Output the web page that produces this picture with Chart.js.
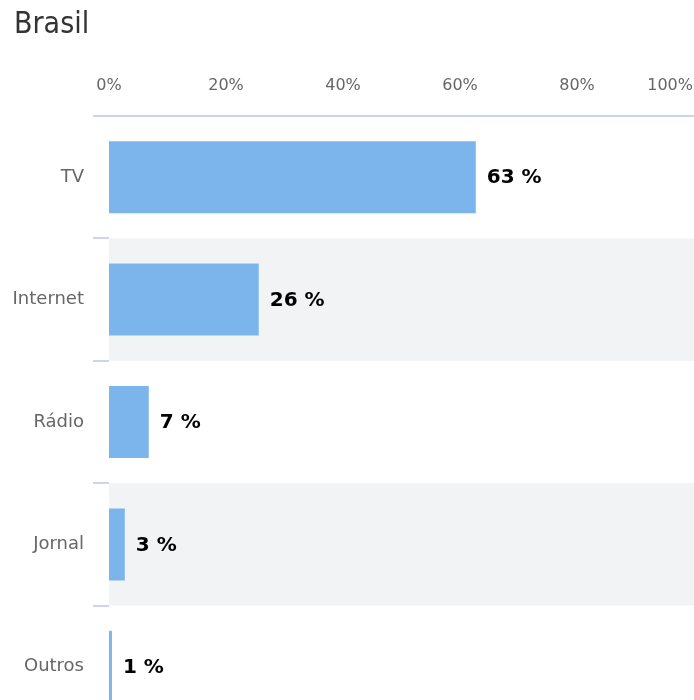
<!DOCTYPE html>
<html>
<head>
<meta charset="utf-8">
<script src="https://cdn.jsdelivr.net/npm/chart.js@4/dist/chart.umd.min.js"></script>
<style>
  html, body { margin: 0; padding: 0; background: #fff; overflow: hidden; }
  #wrap { position: relative; width: 694px; height: 700px; overflow: hidden; }
  #title { position: absolute; left: 14px; top: 8px; font-family: "DejaVu Sans Condensed", "DejaVu Sans", sans-serif; font-size: 30px; line-height: 30px; color: #333; }
  canvas { position: absolute; left: 0; top: 0; }
</style>
</head>
<body>
<div id="wrap">
  <canvas id="c" width="694" height="728"></canvas>
  <div id="title">Brasil</div>
</div>
<script>
const categories = ["TV", "Internet", "Rádio", "Jornal", "Outros"];
const values = [62.7, 25.6, 6.8, 2.7, 0.5];
const xTicks = [0, 20, 40, 60, 80, 100];

const barColor = "#7cb5ec";
const axisColor = "#ccd6eb";
const bandColor = "#f2f3f5";

const bandsPlugin = {
  id: "bands",
  beforeDatasetsDraw(chart) {
    const { ctx, chartArea, scales } = chart;
    const y = scales.y;
    const step = y.getPixelForValue(1) - y.getPixelForValue(0);
    ctx.save();
    ctx.fillStyle = bandColor;
    categories.forEach((c, i) => {
      if (i % 2 === 1) {
        const cy = y.getPixelForValue(i);
        ctx.fillRect(chartArea.left, cy - step / 2, chartArea.right - chartArea.left, step);
      }
    });
    ctx.restore();
  }
};

const labelsPlugin = {
  id: "labels",
  afterDatasetsDraw(chart) {
    const { ctx } = chart;
    const meta = chart.getDatasetMeta(0);
    ctx.save();
    ctx.font = "bold 20px 'DejaVu Sans', sans-serif";
    ctx.fillStyle = "#000";
    ctx.textAlign = "left";
    ctx.textBaseline = "middle";
    meta.data.forEach((bar, i) => {
      ctx.fillText(Math.round(values[i]) + " %", bar.x + 11, bar.y + 1);
    });
    ctx.restore();
  },
  afterDraw(chart) {
    const { ctx, width } = chart;
    const x = chart.scales.x;
    ctx.save();
    ctx.font = "16px 'DejaVu Sans', sans-serif";
    ctx.fillStyle = "#666";
    ctx.textBaseline = "alphabetic";
    ctx.textAlign = "left";
    xTicks.forEach(v => {
      const t = v + "%";
      const w = ctx.measureText(t).width;
      let px = x.getPixelForValue(v) - w / 2;
      if (px + w > width - 1) px = width - 1 - w;
      ctx.fillText(t, px, 90);
    });
    ctx.restore();
  }
};

new Chart(document.getElementById("c"), {
  type: "bar",
  data: {
    labels: categories,
    datasets: [{
      data: values,
      backgroundColor: barColor,
      borderWidth: 0,
      categoryPercentage: 1,
      barPercentage: 0.588
    }]
  },
  options: {
    indexAxis: "y",
    responsive: false,
    animation: false,
    layout: { padding: 0 },
    plugins: {
      legend: { display: false },
      tooltip: { enabled: false },
      title: { display: false }
    },
    scales: {
      x: {
        position: "top",
        min: 0,
        max: 100,
        ticks: { display: false, stepSize: 20 },
        grid: { display: false, drawTicks: false },
        border: { display: true, color: axisColor, width: 2 },
        afterFit(s) { s.height = 116; s.paddingLeft = 0; s.paddingRight = 0; }
      },
      y: {
        offset: true,
        ticks: {
          color: "#666",
          padding: 9,
          font: { family: "'DejaVu Sans', sans-serif", size: 18 }
        },
        grid: {
          offset: true,
          drawOnChartArea: false,
          drawTicks: true,
          tickLength: 16,
          color: axisColor,
          lineWidth: 2
        },
        border: { display: false },
        afterFit(s) { s.width = 109; s.paddingTop = 0; s.paddingBottom = 0; }
      }
    }
  },
  plugins: [bandsPlugin, labelsPlugin]
});
</script>
</body>
</html>
